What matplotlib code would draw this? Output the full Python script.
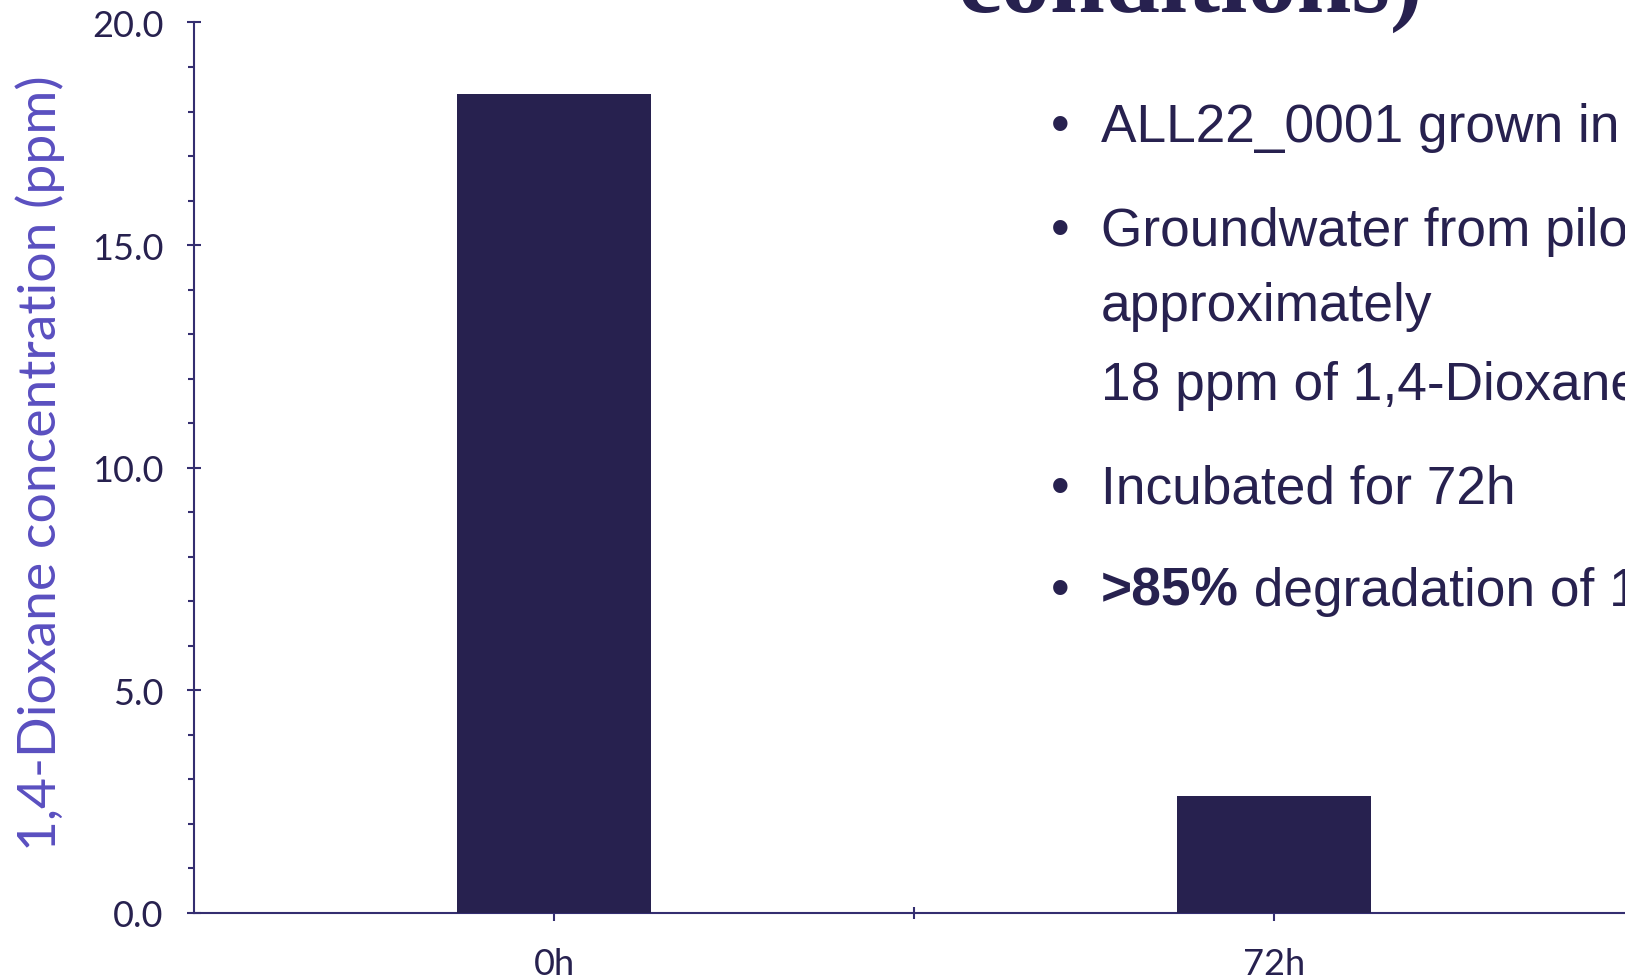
import matplotlib
matplotlib.use("Agg")
from matplotlib import pyplot as plt
from matplotlib.ticker import MultipleLocator, FixedLocator, FormatStrFormatter

NAVY = "#27214f"
AXIS = "#342e70"
LABEL = "#5a4fc0"

times = ["0h", "72h"]
dioxane_ppm = [18.4, 2.63]

title_tail = "conditions)"
bullets = [
    ["ALL22_0001 grown in"],
    ["Groundwater from pilot", "approximately", "18 ppm of 1,4-Dioxane"],
    ["Incubated for 72h"],
]
result_bold = ">85%"
result_rest = " degradation of 1,4-Dioxane"

W, H = 1625, 979
fig = plt.figure(figsize=(W / 100, H / 100), dpi=100)

# axes run past the right edge of the slide, like the original layout
ax = fig.add_axes([194 / W, 65 / H, 1440 / W, 890.5 / H])
ax.bar(range(len(times)), dioxane_ppm, width=0.27, color=NAVY, zorder=3)
ax.set_xlim(-0.5, 1.5)
ax.set_ylim(0, 20)

for side in ("top", "right"):
    ax.spines[side].set_visible(False)
for side in ("left", "bottom"):
    ax.spines[side].set_color(AXIS)
    ax.spines[side].set_linewidth(1.5)

ax.set_xticks(range(len(times)))
ax.set_xticklabels(times)
ax.xaxis.set_minor_locator(FixedLocator([0.5]))
ax.yaxis.set_major_locator(MultipleLocator(5))
ax.yaxis.set_minor_locator(MultipleLocator(1))
ax.yaxis.set_major_formatter(FormatStrFormatter("%.1f"))

for lab in ax.get_xticklabels() + ax.get_yticklabels():
    lab.set_fontfamily("Lato")
    lab.set_fontsize(26)
    lab.set_color(NAVY)

ax.tick_params(axis="y", which="major", direction="inout", length=9.4, width=1.5,
               color=AXIS, pad=17)
ax.tick_params(axis="y", which="minor", direction="out", length=4.3, width=1.5, color=AXIS)
ax.tick_params(axis="x", which="major", direction="out", length=5.8, width=1.5,
               color=AXIS, pad=19)
ax.tick_params(axis="x", which="minor", direction="inout", length=8.6, width=1.5, color=AXIS)

fig.text(40 / W, 1 - 463 / H, "1,4-Dioxane concentration (ppm)", rotation=90,
         ha="center", va="center", family="Lato", fontsize=38.5, color=LABEL)

# slide title, only its last line shows at the top
fig.text(958 / W, 1 - 11.5 / H, title_tail, family="Liberation Serif", weight="bold",
         fontsize=71, color=NAVY, ha="left", va="baseline")

# bullet list on the right
baselines = [142, 246, 321, 400, 504, 606]
bx, tx = 1051 / W, 1101 / W
txt = dict(family="Liberation Sans", fontsize=38.3, color=NAVY, va="baseline")
row = 0
for item in bullets:
    fig.text(bx, 1 - baselines[row] / H, "•", **txt)
    for line in item:
        fig.text(tx, 1 - baselines[row] / H, line, **txt)
        row += 1

fig.text(bx, 1 - baselines[row] / H, "•", **txt)
bold = fig.text(tx, 1 - baselines[row] / H, result_bold, weight="bold", **txt)
plt.annotate(result_rest, xy=(1, 0), xycoords=bold, xytext=(0, 0),
             textcoords="offset points", family="Liberation Sans", fontsize=38.3,
             color=NAVY, ha="left", va="bottom", annotation_clip=False)

fig.savefig("out.png", dpi=100)
